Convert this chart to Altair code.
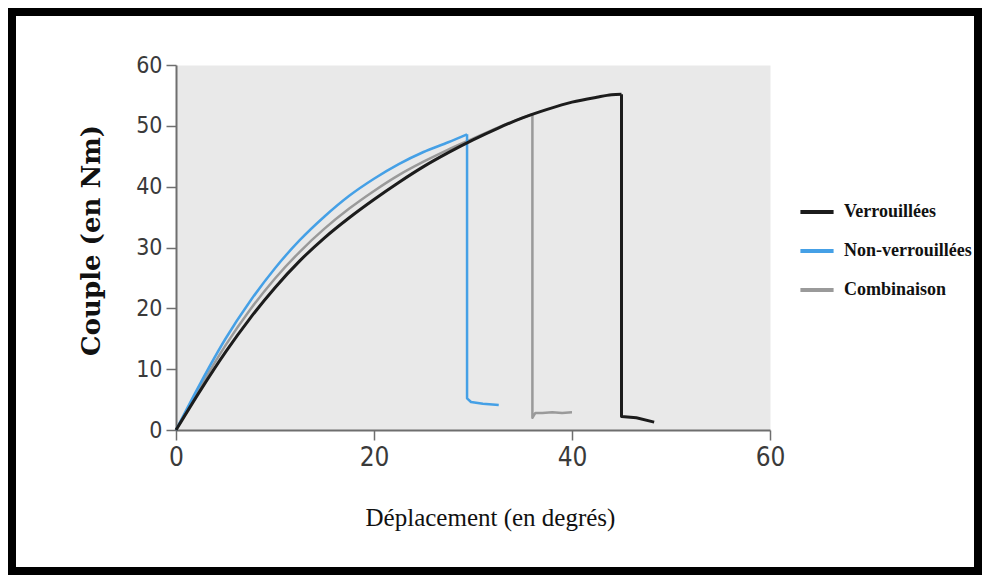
import altair as alt
import pandas as pd

# ---- data ----
series_names = ["Verrouillées", "Non-verrouillées", "Combinaison"]
series_colors = ["#1c1c1c", "#45a0e6", "#9a9a9a"]

# rising part of each curve (smooth)
verr_x = [0, 2.5, 5, 7.5, 10, 12.5, 15, 17.5, 20, 22.5, 25, 27.5, 30, 32.5, 35, 37.5, 40, 42.5, 44, 45.0]
verr_y = [0, 6.6, 12.8, 18.4, 23.4, 27.8, 31.6, 34.9, 37.9, 40.7, 43.3, 45.6, 47.7, 49.6, 51.3, 52.7, 53.9, 54.7, 55.1, 55.2]
# drop and tail after rupture
verr_tail_x = [45.0, 45.0, 46.5, 48.3]
verr_tail_y = [55.2, 2.2, 2.0, 1.3]

nonv_x = [0, 2.5, 5, 7.5, 10, 12.5, 15, 17.5, 20, 22.5, 25, 27.5, 29.4]
nonv_y = [0, 7.8, 15.0, 21.2, 26.6, 31.2, 35.1, 38.5, 41.3, 43.7, 45.7, 47.3, 48.6]
nonv_tail_x = [29.4, 29.4, 29.8, 31.0, 32.6]
nonv_tail_y = [48.6, 5.2, 4.6, 4.3, 4.1]

comb_x = [0, 2.5, 5, 7.5, 10, 12.5, 15, 17.5, 20, 22.5, 25, 27.5, 30, 32.5, 35, 36.0]
comb_y = [0, 7.2, 13.9, 19.8, 24.9, 29.3, 33.1, 36.4, 39.3, 41.9, 44.1, 46.1, 47.9, 49.7, 51.3, 51.9]
comb_tail_x = [36.0, 36.0, 36.3, 37, 38, 39, 40.0]
comb_tail_y = [51.9, 2.0, 2.8, 2.8, 2.9, 2.8, 2.9]

x_ticks = [0, 20, 40, 60]
y_ticks = [0, 10, 20, 30, 40, 50, 60]

rows = []
for name, xs, ys, txs, tys in [
        (series_names[0], verr_x, verr_y, verr_tail_x, verr_tail_y),
        (series_names[1], nonv_x, nonv_y, nonv_tail_x, nonv_tail_y),
        (series_names[2], comb_x, comb_y, comb_tail_x, comb_tail_y)]:
    for i, (a, b) in enumerate(zip(xs, ys)):
        rows.append({"serie": name, "part": "curve", "x": a, "y": b, "i": i})
    for i, (a, b) in enumerate(zip(txs, tys)):
        rows.append({"serie": name, "part": "tail", "x": a, "y": b, "i": i})
df = pd.DataFrame(rows)

NARROW = "'DejaVu Sans Condensed', 'Liberation Sans Narrow', Roboto, sans-serif"

x_enc = alt.X("x:Q", scale=alt.Scale(domain=[0, 60], nice=False),
              axis=alt.Axis(values=x_ticks, title="Déplacement (en degrés)",
                            labelFlush=False, grid=False,
                            labelFont=NARROW, labelFontSize=26,
                            labelColor="#3a3a3a", labelPadding=4,
                            tickSize=10, tickColor="#6e6e6e", tickWidth=1.5,
                            domainColor="#6e6e6e", domainWidth=2,
                            titleFont="Liberation Serif", titleFontSize=25,
                            titleFontWeight="normal", titleColor="#111111",
                            titleX=314, titleY=87, titleBaseline="middle",
                            titleAlign="center"))
y_enc = alt.Y("y:Q", scale=alt.Scale(domain=[0, 60], nice=False),
              axis=alt.Axis(values=y_ticks, title="Couple (en Nm)",
                            labelFlush=False, grid=False,
                            labelFont=NARROW, labelFontSize=23,
                            labelColor="#3a3a3a", labelPadding=4,
                            tickSize=10, tickColor="#6e6e6e", tickWidth=1.5,
                            domainColor="#6e6e6e", domainWidth=2,
                            titleFont="DejaVu Serif", titleFontSize=26,
                            titleFontWeight="bold", titleColor="#111111",
                            titleX=-85, titleY=175, titleAngle=270,
                            titleBaseline="middle", titleAlign="center"))
c_enc = alt.Color("serie:N",
                  scale=alt.Scale(domain=series_names, range=series_colors),
                  legend=alt.Legend(title=None, orient="none", legendX=622, legendY=128,
                                    symbolType="stroke", symbolSize=1100,
                                    symbolStrokeWidth=4, labelFont="Liberation Serif",
                                    labelFontWeight="bold", labelFontSize=18,
                                    labelColor="#111111", labelOffset=8,
                                    rowPadding=11))

base = alt.Chart(df)
layers = []
for name, w in [("Combinaison", 2.5), ("Non-verrouillées", 2.5), ("Verrouillées", 3)]:
    layers.append(
        base.transform_filter((alt.datum.serie == name) & (alt.datum.part == "curve"))
        .mark_line(strokeWidth=w, interpolate="monotone")
        .encode(x=x_enc, y=y_enc, color=c_enc, order="i:Q")
    )
    layers.append(
        base.transform_filter((alt.datum.serie == name) & (alt.datum.part == "tail"))
        .mark_line(strokeWidth=w, strokeJoin="round")
        .encode(x=x_enc, y=y_enc, color=c_enc, order="i:Q")
    )

frame = alt.Chart(pd.DataFrame({"f": [0]})).mark_rect(
    filled=False, stroke="black", strokeWidth=8
).encode(x=alt.value(-164), x2=alt.value(802), y=alt.value(-53), y2=alt.value(506))

chart = alt.layer(*layers, frame).properties(
    width=594, height=365, padding=0, background="white"
).configure_view(fill="#e9e9e9", stroke="transparent")

chart.save("out.html", embed_options={"renderer": "svg", "actions": False})
